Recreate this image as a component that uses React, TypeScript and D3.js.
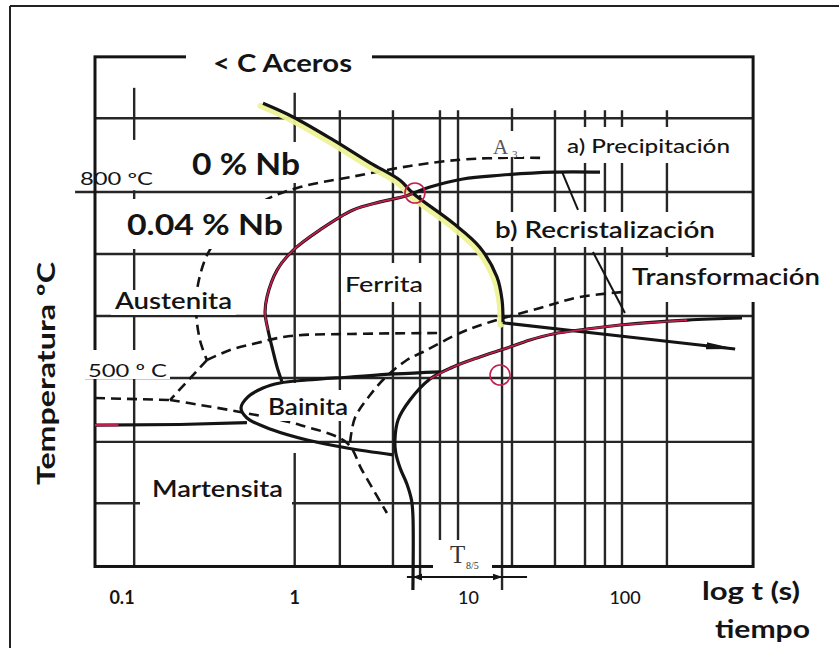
import React from "react";
import * as d3 from "d3";

type P = [number, number];

// ---------- axis / grid data (time in s, temperature in ºC) ----------
const timeTicks = [0.1, 1, 10, 100];
const timeTickLabels = ["0.1", "1", "10", "100"];
const frameTimes: P = [0.0613, 607];
const frameTemps: P = [196, 1018];

// [temperature, tStart, tEnd]
const tempGridLines: [number, number, number][] = [
  [919, 0.0613, 607],
  [800, 0.0464, 607],
  [700, 0.0613, 607],
  [600, 0.0613, 607],
  [500, 0.0533, 607],
  [397, 0.0613, 607],
  [298, 0.0613, 607],
];

// [time, tempTop, tempBottom]
const timeGridLines: [number, number, number][] = [
  [0.106, 968, 884],
  [0.106, 803, 196],
  [1.0, 960, 492],
  [1.0, 379, 196],
  [1.88, 932, 196],
  [3.95, 932, 196],
  [5.77, 795, 175],
  [7.62, 932, 196],
  [9.81, 932, 196],
  [18.15, 590, 158],
  [20.86, 935, 196],
  [38.05, 932, 196],
  [57.9, 932, 196],
  [76.5, 932, 196],
  [97.1, 932, 196],
  [182, 932, 196],
];

// ---------- transformation curves ----------
// recrystallisation limit, 0 % Nb (yellow highlighted)
const recrystNoNb: P[] = [
  [0.642, 943], [0.977, 921], [1.71, 884], [2.87, 847], [4.36, 819], [5.22, 798],
  [9.14, 750], [13.3, 711], [16.9, 663], [18.15, 626], [18.4, 590],
];
const coolingArrow: P[] = [[18.4, 590], [18.9, 588.7], [94.4, 567.7], [472, 546.8]];

// ferrite start, 0.04 % Nb
const ferriteStartNb: P[] = [
  [71.4, 832], [37.0, 832], [17.65, 827], [10.5, 821], [6.63, 808], [5.22, 798],
  [4.8, 794], [3.3, 784], [2.26, 771], [1.425, 739], [0.977, 706], [0.781, 674],
  [0.679, 631], [0.661, 605], [0.689, 577], [0.728, 550], [0.781, 518], [0.837, 494],
];
const ferriteStartNbRed: P = [5, 14];

// ferrite finish, 0.04 % Nb
const ferriteFinishNb: P[] = [
  [520, 596.8], [241, 593.5], [94.4, 585.5], [59.5, 579], [37.0, 571], [26.8, 561.3],
  [19.45, 548.4], [13.3, 533.9], [9.14, 517.7], [6.63, 498.4], [5.01, 464.5], [4.24, 432.3],
  [4.06, 400], [4.1, 380.6], [4.36, 355], [4.8, 329], [5.12, 303], [5.22, 279], [5.22, 158],
];
const ferriteFinishNbRed: P = [1, 9];

// bainite nose, 0.04 % Nb
const bainiteNb: P[] = [
  [7.62, 510], [4.06, 506.5], [2.17, 501.6], [1.19, 496.8], [0.814, 491.9], [0.642, 483.9],
  [0.52, 469.4], [0.472, 451.6], [0.513, 435.5], [0.738, 416.1], [1.19, 400], [2.08, 387.1],
  [3.95, 376],
];
const martensiteStart: P[] = [[0.0613, 424], [0.2, 425], [0.513, 428]];
const martensiteStartRed: P[] = [[0.0613, 424], [0.085, 424]];

// dashed curves, 0 % Nb
const ferriteStartNoNb: P[] = [
  [30.9, 855], [17.65, 855], [10.08, 852], [5.01, 842], [2.17, 824], [1.08, 808],
  [0.661, 787], [0.434, 752], [0.306, 707], [0.262, 658], [0.252, 610], [0.266, 561],
  [0.293, 529],
];
const bainiteStartNoNb: P[] = [[0.293, 529], [0.175, 464.5]];
const bainiteLeftNoNb: P[] = [[0.0613, 467.7], [0.175, 464.5]];
const bainiteLowerNoNb: P[] = [
  [0.175, 464.5], [0.466, 445.2], [1.077, 424.2], [2.08, 395.2], [2.56, 351.6], [3.63, 282.3],
];
const branchNoNb: P[] = [
  [0.293, 529], [0.405, 545], [0.59, 556.5], [0.936, 567.7], [2.17, 571], [7.62, 572.6],
];
const ferriteFinishNoNb: P[] = [
  [2.17, 396.8], [2.32, 435.5], [2.87, 472.6], [3.53, 500], [4.8, 529], [6.01, 541.9],
  [10.08, 572.6], [14.7, 588.7], [30.9, 612.9], [54, 630.6], [98.5, 638.7],
];

// small solid markers
const precipMark: P[] = [[42, 832.3], [52.5, 771]];
const transfMark: P[] = [[64.7, 703.2], [101.2, 604.8]];

// highlighted points and T8/5 interval
const redPoints: P[] = [[5.37, 798.4], [17.65, 504.8]];
const t85: P = [5.22, 18.15];
const t85Temp = 179;

const SANS = "Lato, 'Open Sans', 'DejaVu Sans', sans-serif";
const SERIF = "'Liberation Serif', 'DejaVu Serif', serif";
const INK = "#141414";
const RED = "#c41e4e";

type LabelProps = {
  x: number; y: number; text: string; size: number; weight?: number;
  len?: number; family?: string; fill?: string;
};
function Txt({ x, y, text, size, weight = 400, len, family = SANS, fill = INK }: LabelProps) {
  return (
    <text x={x} y={y} fontSize={size} fontWeight={weight} fontFamily={family} fill={fill}
      textLength={len} lengthAdjust={len ? "spacingAndGlyphs" : undefined}>{text}</text>
  );
}
function Box({ b }: { b: [number, number, number, number] }) {
  return <rect x={b[0]} y={b[1]} width={b[2] - b[0]} height={b[3] - b[1]} fill="#fff" />;
}

export default function App() {
  const x = d3.scaleLog().domain([0.1, 100]).range([130, 624.1]);
  const y = d3.scaleLinear().domain([500, 800]).range([378, 192]);
  const smooth = d3.line<P>().x(d => x(d[0])).y(d => y(d[1])).curve(d3.curveCatmullRom.alpha(0.5));
  const straight = d3.line<P>().x(d => x(d[0])).y(d => y(d[1]));

  const fx0 = x(frameTimes[0]), fx1 = x(frameTimes[1]);
  const fy0 = y(frameTemps[1]), fy1 = y(frameTemps[0]);

  const dash = "10 6";
  const tickNudge = [-8, 0, 9, 1];
  const tickWeight = [700, 700, 500, 500];

  return (
    <svg width={839} height={648} viewBox="0 0 839 648"
      style={{ position: "absolute", left: 0, top: 0, background: "#fff" }}>
      <defs>
        <marker id="bigArrow" viewBox="0 0 30 10" refX="29" refY="5" markerWidth="30" markerHeight="10"
          markerUnits="userSpaceOnUse" orient="auto">
          <path d="M0,1.5 L30,5 L0,8.5 Z" fill={INK} />
        </marker>
        <marker id="smallArrow" viewBox="0 0 10 8" refX="9.5" refY="4" markerWidth="10" markerHeight="8"
          markerUnits="userSpaceOnUse" orient="auto-start-reverse">
          <path d="M0,0.5 L10,4 L0,7.5 Z" fill={INK} />
        </marker>
      </defs>
      <rect x={0} y={0} width={839} height={648} fill="#fff" />
      {/* outer picture border */}
      <line x1={10} y1={6} x2={839} y2={6} stroke="#222" strokeWidth={2} />
      <line x1={10} y1={6} x2={10} y2={648} stroke="#222" strokeWidth={2} />

      {/* grid */}
      <g stroke="#262626" strokeWidth={2.4}>
        {tempGridLines.map(([T, a, b], i) => (
          <line key={"h" + i} x1={x(a)} x2={x(b)} y1={y(T)} y2={y(T)} />
        ))}
        {timeGridLines.map(([t, top, bot], i) => (
          <line key={"v" + i} x1={x(t)} x2={x(t)} y1={y(top)} y2={y(bot)} />
        ))}
      </g>
      {/* frame */}
      <rect x={fx0} y={fy0} width={fx1 - fx0} height={fy1 - fy0} fill="none" stroke={INK} strokeWidth={3} />

      {/* dashed 0 % Nb curves */}
      <g fill="none" stroke={INK} strokeWidth={2.6} strokeDasharray={dash}>
        <path d={smooth(ferriteStartNoNb) || ""} />
        <path d={straight(bainiteStartNoNb) || ""} />
        <path d={straight(bainiteLeftNoNb) || ""} />
        <path d={smooth(bainiteLowerNoNb) || ""} />
        <path d={smooth(branchNoNb) || ""} />
        <path d={smooth(ferriteFinishNoNb) || ""} />
      </g>

      {/* yellow highlight */}
      <path d={smooth(recrystNoNb) || ""} transform="translate(-2.5,2.5)" fill="none"
        stroke="#eef296" strokeWidth={6} strokeLinecap="round" opacity={0.95} />

      {/* solid curves */}
      <g fill="none" stroke={INK} strokeWidth={3.2} strokeLinejoin="round">
        <path d={smooth(recrystNoNb) || ""} />
        <path d={straight(coolingArrow) || ""} markerEnd="url(#bigArrow)" />
        <path d={smooth(ferriteStartNb) || ""} />
        <path d={smooth(ferriteFinishNb) || ""} />
        <path d={smooth(bainiteNb) || ""} />
        <path d={straight(martensiteStart) || ""} />
      </g>
      <g fill="none" stroke={INK} strokeWidth={2}>
        <path d={straight(precipMark) || ""} />
        <path d={straight(transfMark) || ""} />
      </g>
      {/* red parts */}
      <g fill="none" stroke={RED} strokeWidth={1.8}>
        <path d={smooth(ferriteStartNb.slice(ferriteStartNbRed[0], ferriteStartNbRed[1] + 1)) || ""} />
        <path d={smooth(ferriteFinishNb.slice(ferriteFinishNbRed[0], ferriteFinishNbRed[1] + 1)) || ""} />
        <path d={straight(martensiteStartRed) || ""} strokeWidth={2.4} />
      </g>

      {/* label backgrounds */}
      <Box b={[186, 44, 372, 84]} />
      <Box b={[186, 142, 303, 183]} />
      <Box b={[118, 199, 292, 249]} />
      <Box b={[111, 290, 236, 315]} />
      <Box b={[341, 263, 426, 302]} />
      <Box b={[264, 390, 350, 421]} />
      <Box b={[140, 467, 292, 507]} />
      <Box b={[561, 127, 738, 163]} />
      <Box b={[489, 212, 721, 247]} />
      <Box b={[627, 257, 823, 302]} />
      <Box b={[85, 350, 170, 379]} />
      <Box b={[489, 131, 523, 157]} />
      <Box b={[433, 540, 492, 574]} />

      {/* T8/5 interval */}
      <g stroke={INK} strokeWidth={1.8}>
        <line x1={x(t85[0]) - 6} x2={x(t85[1]) + 25} y1={y(t85Temp)} y2={y(t85Temp)} />
        <line x1={x(t85[0])} x2={x(t85[1])} y1={y(t85Temp)} y2={y(t85Temp)}
          markerStart="url(#smallArrow)" markerEnd="url(#smallArrow)" />
      </g>
      <text x={450} y={563} fontFamily={SERIF} fontSize={25} fill="#333">T</text>
      <text x={466} y={569} fontFamily={SERIF} fontSize={10} fill="#333">8/5</text>
      <text x={493} y={154} fontFamily={SERIF} fontSize={21} fill="#555">A</text>
      <text x={512} y={158} fontFamily={SERIF} fontSize={11} fill="#555">3</text>

      {/* red circles */}
      {redPoints.map((p, i) => (
        <circle key={"c" + i} cx={x(p[0])} cy={y(p[1])} r={10} fill="none" stroke={RED} strokeWidth={1.6} />
      ))}

      {/* texts */}
      <Txt x={213} y={72} text={"< C Aceros"} size={24} weight={700} len={139} />
      <Txt x={192} y={175} text="0 % Nb" size={30} weight={700} len={108} />
      <Txt x={127} y={235} text="0.04 % Nb" size={28} weight={700} len={156} />
      <Txt x={115} y={309} text="Austenita" size={22} weight={600} len={117} />
      <Txt x={345} y={292} text="Ferrita" size={22} weight={500} len={78} />
      <Txt x={268} y={415} text="Bainita" size={22} weight={600} len={80} />
      <Txt x={152} y={497} text="Martensita" size={22} weight={600} len={131} />
      <Txt x={567} y={153} text="a) Precipitación" size={20} weight={500} len={163} />
      <Txt x={495} y={238} text="b) Recristalización" size={22} weight={600} len={220} />
      <Txt x={632} y={285} text="Transformación" size={23} weight={600} len={188} />
      <Txt x={80} y={185} text="800 ºC" size={17} weight={400} len={73} />
      <Txt x={88} y={377} text="500 º C" size={18} weight={400} len={79} />
      <Txt x={702} y={600} text="log t (s)" size={25} weight={700} len={98} />
      <Txt x={715} y={638} text="tiempo" size={24} weight={700} len={95} />
      <text transform="translate(55,485) rotate(-90)" fontFamily={SANS} fontSize={25} fontWeight={700}
        fill={INK} textLength={223} lengthAdjust="spacingAndGlyphs">Temperatura ºC</text>

      {timeTicks.map((t, i) => (
        <text key={"t" + i} x={x(t) + tickNudge[i]} y={604} textAnchor="middle" fontFamily={SANS}
          fontSize={18} fontWeight={tickWeight[i]} fill={INK}>{timeTickLabels[i]}</text>
      ))}
    </svg>
  );
}
